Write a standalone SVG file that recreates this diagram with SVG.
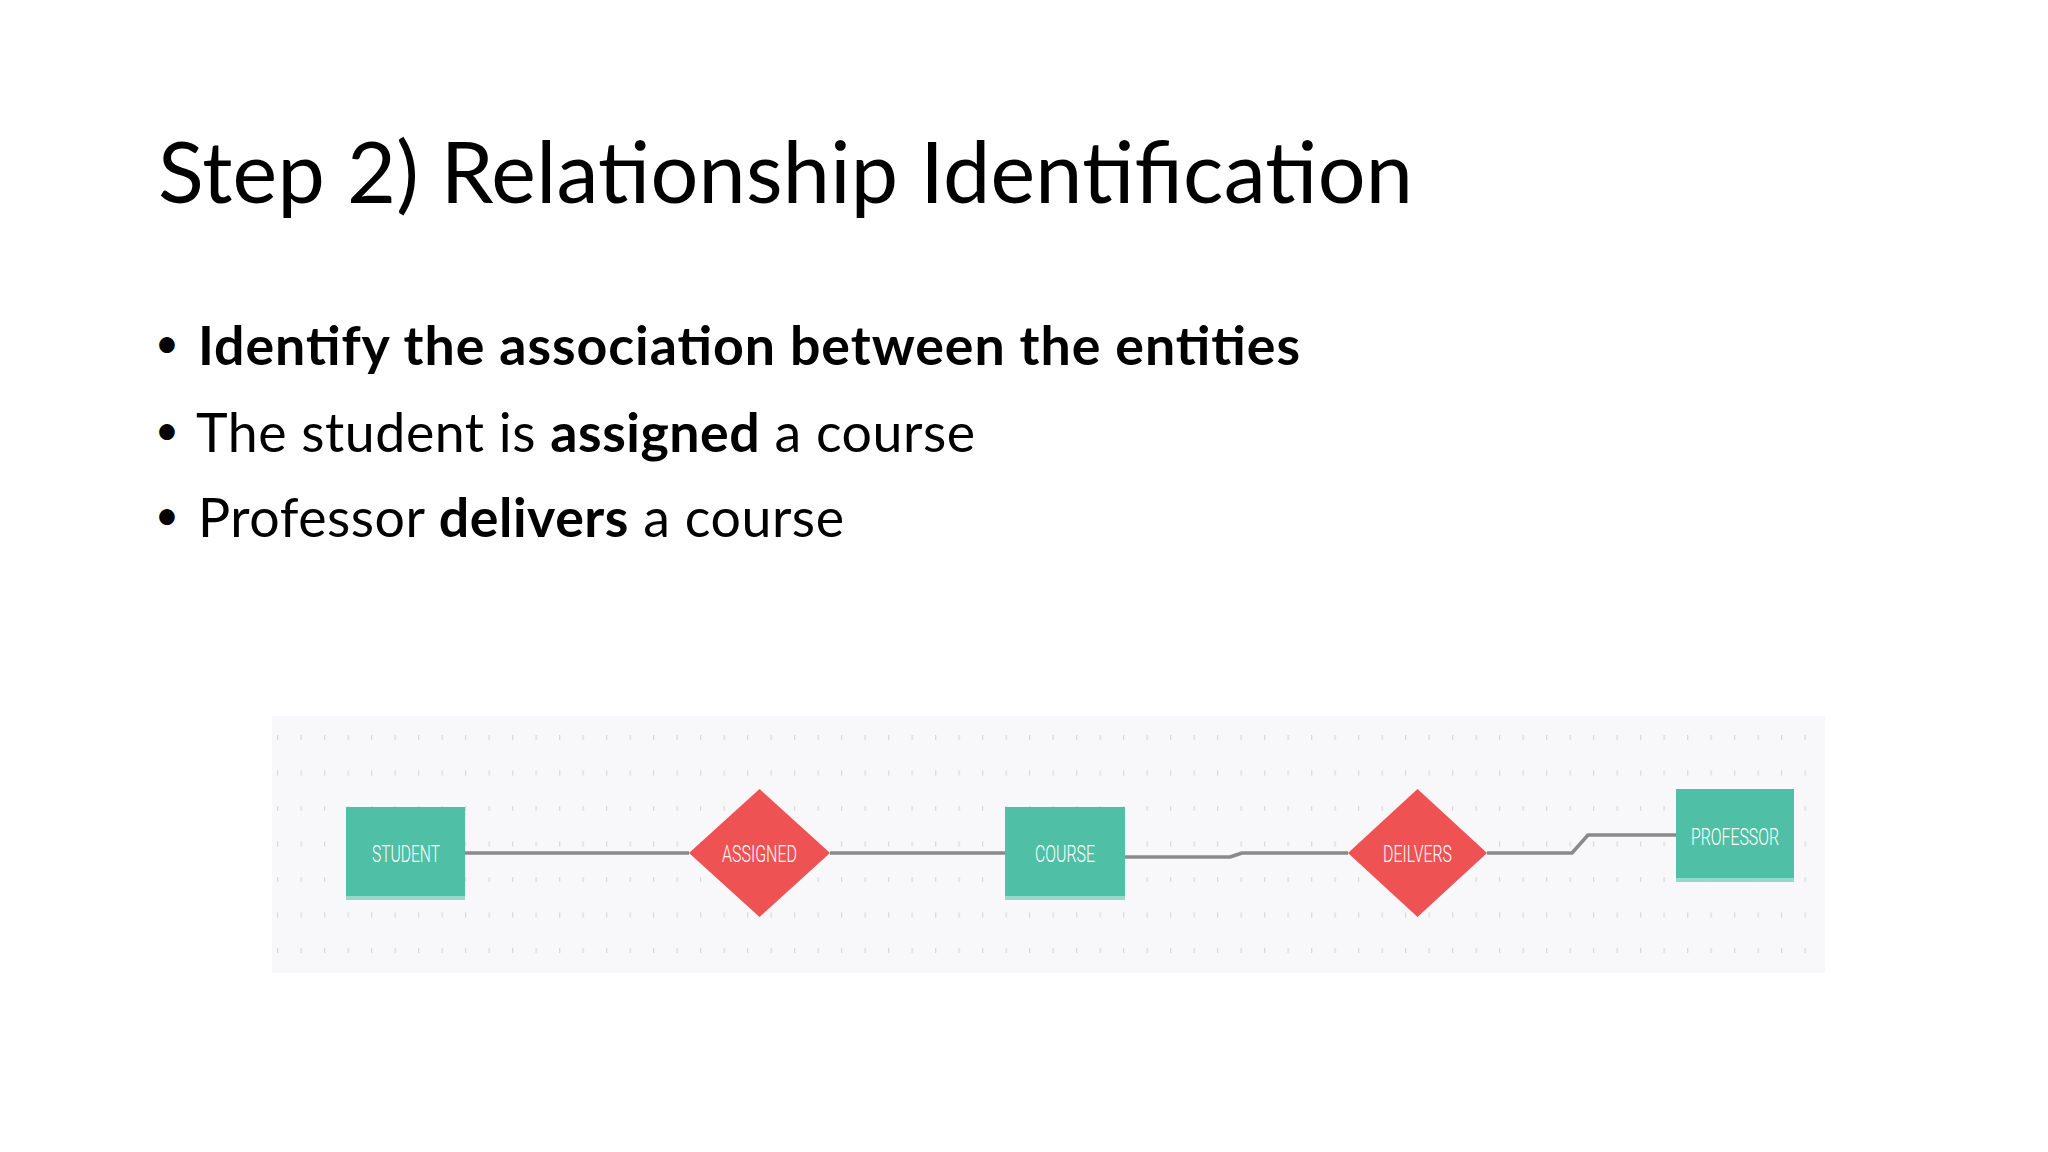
<svg xmlns="http://www.w3.org/2000/svg" width="2048" height="1152" viewBox="0 0 2048 1152">
<defs>
<style>
.title{font-family:Lato,"Open Sans","Liberation Sans",sans-serif;font-size:84.5px;fill:#000}
.bul{font-family:Lato,"Open Sans","Liberation Sans",sans-serif;font-size:53.7px;fill:#000}
.dot{font-family:Lato,"Open Sans","Liberation Sans",sans-serif;font-size:42px;fill:#000;text-anchor:middle}
.b{font-weight:bold}
.ent{fill:#4fc0a6}
.entb{fill:#95dac9}
.rel{fill:#ef5253}
.lbl{font-family:Roboto,"Liberation Sans",sans-serif;font-size:24px;font-weight:300;fill:#fff;text-anchor:middle}
.conn{fill:none;stroke:#8a8a8a;stroke-width:3.5;stroke-linejoin:round}
</style>
<pattern id="dots" patternUnits="userSpaceOnUse" x="277" y="735" width="23.5" height="35.5">
<rect x="0" y="0" width="1.3" height="5" fill="#d9d9de"/>
</pattern>
</defs>
<rect width="2048" height="1152" fill="#fff"/>
<text class="title" x="158" y="203" textLength="1255">Step 2) Relationship Identification</text>
<g id="bullets">
<text class="dot" x="167" y="358">•</text>
<text class="bul b" x="198" y="365" textLength="1102">Identify the association between the entities</text>
<text class="dot" x="167" y="445">•</text>
<text class="bul" x="196" y="452" textLength="779">The student is <tspan class="b">assigned</tspan> a course</text>
<text class="dot" x="167" y="530">•</text>
<text class="bul" x="198" y="537" textLength="646">Professor <tspan class="b">delivers</tspan> a course</text>
</g>
<g id="panel">
<rect x="272" y="716" width="1553" height="257" fill="#f8f8fa"/>
<rect x="272" y="730" width="1553" height="230" fill="url(#dots)"/>
</g>
<g id="connectors">
<path class="conn" d="M465 853 H689"/>
<path class="conn" d="M830 853 H1005"/>
<path class="conn" d="M1125 857 H1230 L1242 853 H1348"/>
<path class="conn" d="M1487 853 H1572 L1588 835 H1676"/>
</g>
<g id="student">
<rect class="entb" x="346" y="809" width="119" height="91"/>
<rect class="ent" x="346" y="807" width="119" height="89"/>
<text class="lbl" x="406" y="862" textLength="68" lengthAdjust="spacingAndGlyphs">STUDENT</text>
</g>
<g id="assigned">
<polygon class="rel" points="759.5,789 830,853 759.5,917 689,853"/>
<text class="lbl" x="759.5" y="862" textLength="75" lengthAdjust="spacingAndGlyphs">ASSIGNED</text>
</g>
<g id="course">
<rect class="entb" x="1005" y="809" width="120" height="91"/>
<rect class="ent" x="1005" y="807" width="120" height="89"/>
<text class="lbl" x="1065" y="862" textLength="60" lengthAdjust="spacingAndGlyphs">COURSE</text>
</g>
<g id="delivers">
<polygon class="rel" points="1417.5,789 1487,853 1417.5,917 1348,853"/>
<text class="lbl" x="1417.5" y="862" textLength="69" lengthAdjust="spacingAndGlyphs">DEILVERS</text>
</g>
<g id="professor">
<rect class="entb" x="1676" y="791" width="118" height="91"/>
<rect class="ent" x="1676" y="789" width="118" height="89"/>
<text class="lbl" x="1735" y="845" textLength="88" lengthAdjust="spacingAndGlyphs">PROFESSOR</text>
</g>
</svg>
